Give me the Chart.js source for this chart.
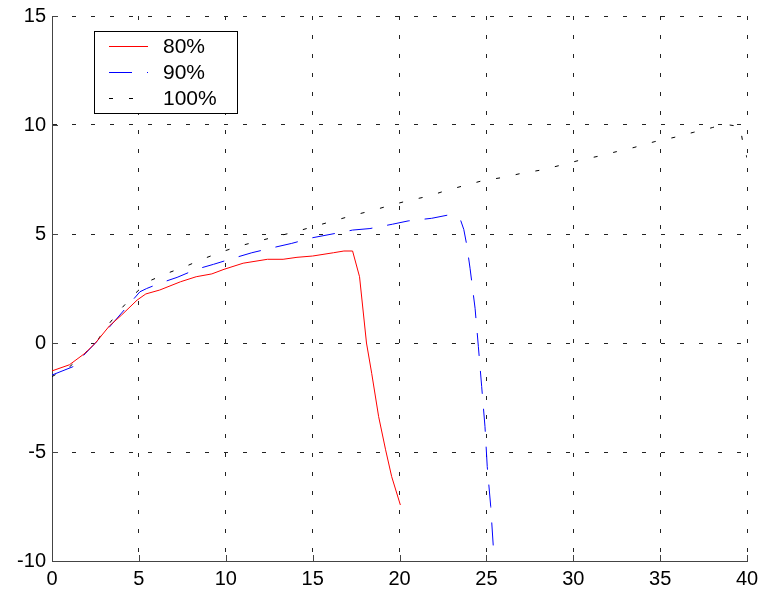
<!DOCTYPE html>
<html>
<head>
<meta charset="utf-8">
<script src="https://cdn.jsdelivr.net/npm/chart.js@4/dist/chart.umd.min.js"></script>
<style>
html,body{margin:0;padding:0;background:#fff;}
canvas{display:block;}
</style>
</head>
<body>
<canvas id="c" width="760" height="594"></canvas>
<script>
// ---- data ----
const seriesLabels = ["80%", "90%", "100%"];

const x80 = [0, 1.0, 1.9, 2.5, 3.3, 4.0, 4.9, 5.4, 6.2, 7.4, 8.3, 9.2, 9.9, 11.0, 12.4, 13.3, 14.1, 15.0, 16.2, 16.8, 17.3, 17.7, 18.1, 18.4, 18.8, 19.2, 19.55, 20.05];
const y80 = [-1.28, -1.0, -0.47, 0.0, 0.78, 1.28, 1.97, 2.25, 2.43, 2.81, 3.04, 3.17, 3.38, 3.66, 3.84, 3.84, 3.93, 3.99, 4.14, 4.22, 4.22, 3.04, 0.0, -1.39, -3.38, -4.9, -6.13, -7.43];

const x90 = [0, 1.2, 1.9, 2.5, 2.9, 3.6, 4.4, 5.06, 5.45, 6.2, 7.2, 8.3, 9.3, 10.4, 11.5, 12.7, 13.8, 15.0, 16.0, 17.3, 18.3, 19.6, 20.5, 21.85, 22.8, 23.5, 23.7, 23.87, 24.06, 24.35, 24.54, 24.73, 24.92, 25.05, 25.25, 25.4];
const y90 = [-1.47, -1.09, -0.5, 0.0, 0.37, 1.0, 1.74, 2.35, 2.5, 2.74, 3.01, 3.38, 3.61, 3.88, 4.14, 4.37, 4.57, 4.83, 4.98, 5.18, 5.25, 5.45, 5.6, 5.72, 5.87, 5.67, 5.21, 4.5, 3.43, 1.59, -0.17, -2.0, -3.84, -5.67, -7.5, -9.36];

const x100 = [0, 1.0, 1.9, 2.7, 3.3, 4.0, 4.8, 5.5, 6.6, 7.65, 8.7, 9.8, 10.8, 11.9, 12.9, 14.0, 15.0, 16.2, 17.3, 18.4, 19.45, 20.5, 21.7, 22.7, 24.8, 26.0, 27.0, 28.2, 29.2, 30.4, 31.4, 32.5, 33.5, 34.7, 35.8, 36.9, 38.0, 38.5, 39.0, 39.6, 39.75, 40.0];
const y100 = [-1.54, -1.1, -0.47, 0.22, 0.9, 1.59, 2.28, 2.81, 3.19, 3.5, 3.86, 4.19, 4.45, 4.68, 4.88, 5.1, 5.33, 5.6, 5.85, 6.07, 6.31, 6.53, 6.74, 7.0, 7.45, 7.6, 7.78, 7.94, 8.14, 8.39, 8.56, 8.78, 8.97, 9.24, 9.43, 9.66, 9.88, 10.0, 10.0, 9.93, 9.24, 8.5];

const xTicks = [0, 5, 10, 15, 20, 25, 30, 35, 40];
const yTicks = [-10, -5, 0, 5, 10, 15];

// ---- build ----
const pts = (xs, ys) => xs.map((x, i) => ({x: x, y: ys[i]}));
const FONT = "'Liberation Sans', Arial, Helvetica, sans-serif";

const inwardTicks = {
  id: 'inwardTicks',
  afterDatasetsDraw(chart) {
    const ctx = chart.ctx, xs = chart.scales.x, ys = chart.scales.y, a = chart.chartArea;
    ctx.save();
    ctx.strokeStyle = '#444';
    ctx.lineWidth = 1;
    ctx.setLineDash([]);
    ctx.beginPath();
    xTicks.forEach(v => {
      const px = Math.round(xs.getPixelForValue(v)) + 0.5;
      ctx.moveTo(px, a.bottom); ctx.lineTo(px, a.bottom - 6);
    });
    yTicks.forEach(v => {
      const py = Math.round(ys.getPixelForValue(v)) + 0.5;
      ctx.moveTo(a.left, py); ctx.lineTo(a.left + 6, py);
    });
    ctx.stroke();
    ctx.restore();
  }
};

const boxLegend = {
  id: 'boxLegend',
  afterDraw(chart) {
    const ctx = chart.ctx, a = chart.chartArea;
    const bx = a.left + 42, by = 31, bw = 143, bh = 82;
    ctx.save();
    ctx.fillStyle = '#fff';
    ctx.fillRect(bx, by, bw, bh);
    ctx.strokeStyle = '#000';
    ctx.lineWidth = 1;
    ctx.setLineDash([]);
    ctx.strokeRect(bx + 0.5, by + 0.5, bw, bh);
    ctx.font = '21px ' + FONT;
    ctx.textBaseline = 'middle';
    ctx.textAlign = 'left';
    chart.data.datasets.forEach((ds, i) => {
      const y = by + 15.5 + i * 26;
      ctx.strokeStyle = ds.borderColor;
      ctx.lineWidth = ds.borderWidth;
      ctx.setLineDash(ds.borderDash || []);
      ctx.beginPath();
      ctx.moveTo(bx + 15, y);
      ctx.lineTo(bx + 54, y);
      ctx.stroke();
      ctx.fillStyle = '#000';
      ctx.fillText(ds.label, bx + 69, y + 1);
    });
    ctx.restore();
  }
};

const common = {borderWidth: 1, pointRadius: 0, fill: false, tension: 0, showLine: true};

new Chart(document.getElementById('c'), {
  type: 'scatter',
  data: {
    datasets: [
      Object.assign({label: seriesLabels[0], data: pts(x80, y80), borderColor: '#ff0000', borderDash: []}, common),
      Object.assign({label: seriesLabels[1], data: pts(x90, y90), borderColor: '#0000ff', borderDash: [23, 15]}, common),
      Object.assign({label: seriesLabels[2], data: pts(x100, y100), borderColor: '#000000', borderDash: [4, 16]}, common)
    ]
  },
  options: {
    responsive: false,
    animation: false,
    devicePixelRatio: 1,
    layout: {padding: {top: 16, right: 13, left: 0, bottom: 0}},
    plugins: {legend: {display: false}, tooltip: {enabled: false}},
    scales: {
      x: {
        type: 'linear', min: 0, max: 40,
        afterBuildTicks: s => { s.ticks = xTicks.map(v => ({value: v})); },
        afterFit: s => { s.height = 33; s.paddingLeft = 0; s.paddingRight = 0; },
        ticks: {color: '#000', font: {family: FONT, size: 20}, padding: 6, maxRotation: 0},
        grid: {color: '#222', lineWidth: 1, drawTicks: false},
        border: {display: true, color: '#444', width: 1, dash: [4, 15]}
      },
      y: {
        type: 'linear', min: -10, max: 15,
        afterBuildTicks: s => { s.ticks = yTicks.map(v => ({value: v})); },
        afterFit: s => { s.width = 52; s.paddingTop = 0; s.paddingBottom = 0; },
        ticks: {color: '#000', font: {family: FONT, size: 20}, padding: 6},
        grid: {color: '#222', lineWidth: 1, drawTicks: false},
        border: {display: true, color: '#444', width: 1, dash: [4, 15]}
      }
    }
  },
  plugins: [inwardTicks, boxLegend]
});
</script>
</body>
</html>
